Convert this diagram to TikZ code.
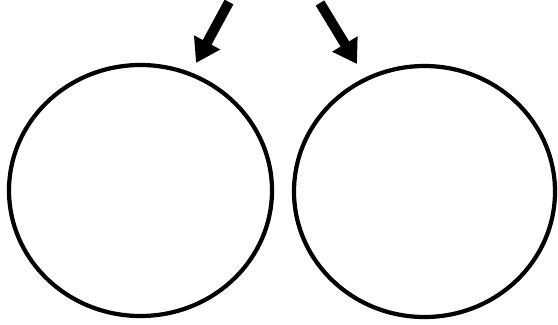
\documentclass[tikz,border=0pt]{standalone}
\usetikzlibrary{shapes.geometric,arrows.meta}
\tikzset{
    ring/.style={ellipse, draw, line width=3.6pt, inner sep=0pt},
    pointer/.style={line width=8.5pt, -{Triangle[length=20pt,width=24pt]}}
}
\begin{document}
\begin{tikzpicture}[x=0.03cm,y=-0.03cm]
    % Two rings with an arrow pointing at each one from above.
    \useasboundingbox (0,0) rectangle (558,324);
    \node[ring, minimum width=7.89cm, minimum height=7.53cm] (left) at (140.5,190.5) {};
    \node[ring, minimum width=7.83cm, minimum height=7.53cm] (right) at (424.5,191.5) {};
    \coordinate (lefttail) at (229,2);
    \coordinate (lefthead) at (196,63);
    \coordinate (righttail) at (320,3);
    \coordinate (righthead) at (357,64);
    \draw[pointer] (lefttail) -- (lefthead);
    \draw[pointer] (righttail) -- (righthead);
\end{tikzpicture}
\end{document}
